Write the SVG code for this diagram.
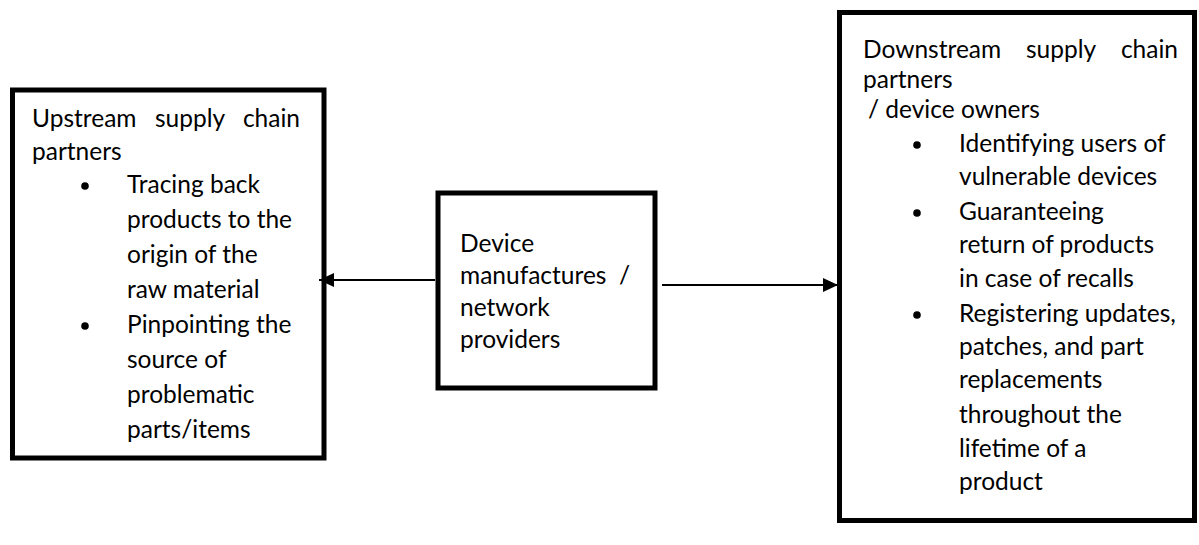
<svg xmlns="http://www.w3.org/2000/svg" width="1199" height="545" viewBox="0 0 1199 545">
  <style>
    .box { fill: #ffffff; stroke: #000000; stroke-width: 5; }
    .txt { font-family: Lato, "Liberation Sans", sans-serif; font-size: 24.5px; fill: #000000; }
    .dot { fill: #000000; }
    .link { stroke: #000000; stroke-width: 2; fill: none; }
  </style>
  <defs>
    <marker id="head" markerUnits="userSpaceOnUse" markerWidth="16" markerHeight="14" refX="15" refY="7" orient="auto">
      <path d="M0,0 L15,7 L0,14 Z" fill="#000000"/>
    </marker>
  </defs>
  <rect width="1199" height="545" fill="#ffffff"/>

  <!-- upstream partners -->
  <g id="upstream">
    <rect class="box" x="12.5" y="90" width="311.5" height="368"/>
    <text class="txt" x="32" y="127">Upstream</text>
    <text class="txt" x="155" y="127">supply</text>
    <text class="txt" x="300" y="127" text-anchor="end">chain</text>
    <text class="txt" x="32" y="160">partners</text>
    <circle class="dot" cx="85" cy="186" r="3.8"/>
    <text class="txt" x="127" y="193">Tracing back</text>
    <text class="txt" x="127" y="228">products to the</text>
    <text class="txt" x="127" y="263">origin of the</text>
    <text class="txt" x="127" y="298">raw material</text>
    <circle class="dot" cx="85" cy="326" r="3.8"/>
    <text class="txt" x="127" y="333">Pinpointing the</text>
    <text class="txt" x="127" y="368">source of</text>
    <text class="txt" x="127" y="403">problematic</text>
    <text class="txt" x="127" y="438">parts/items</text>
  </g>

  <!-- manufacturers / network providers -->
  <g id="manufacturers">
    <rect class="box" x="438" y="193" width="217" height="195"/>
    <text class="txt" x="460" y="252">Device</text>
    <text class="txt" x="460" y="284">manufactures</text>
    <text class="txt" x="630" y="284" text-anchor="end">/</text>
    <text class="txt" x="460" y="316">network</text>
    <text class="txt" x="460" y="348">providers</text>
  </g>

  <!-- downstream partners / owners -->
  <g id="downstream">
    <rect class="box" x="839.5" y="12.5" width="355" height="508"/>
    <text class="txt" x="863" y="58">Downstream</text>
    <text class="txt" x="1026" y="58">supply</text>
    <text class="txt" x="1178" y="58" text-anchor="end">chain</text>
    <text class="txt" x="863" y="88">partners</text>
    <text class="txt" x="868" y="118">/ device owners</text>
    <circle class="dot" cx="917" cy="145" r="3.8"/>
    <text class="txt" x="959" y="152">Identifying users of</text>
    <text class="txt" x="959" y="185">vulnerable devices</text>
    <circle class="dot" cx="917" cy="213" r="3.8"/>
    <text class="txt" x="959" y="220">Guaranteeing</text>
    <text class="txt" x="959" y="253">return of products</text>
    <text class="txt" x="959" y="287">in case of recalls</text>
    <circle class="dot" cx="917" cy="315" r="3.8"/>
    <text class="txt" x="959" y="322">Registering updates,</text>
    <text class="txt" x="959" y="355">patches, and part</text>
    <text class="txt" x="959" y="388">replacements</text>
    <text class="txt" x="959" y="423">throughout the</text>
    <text class="txt" x="959" y="457">lifetime of a</text>
    <text class="txt" x="959" y="490">product</text>
  </g>

  <!-- connectors -->
  <g id="connectors">
    <line class="link" x1="435" y1="280" x2="319" y2="280" marker-end="url(#head)"/>
    <line class="link" x1="662" y1="285" x2="838" y2="285" marker-end="url(#head)"/>
  </g>
</svg>
